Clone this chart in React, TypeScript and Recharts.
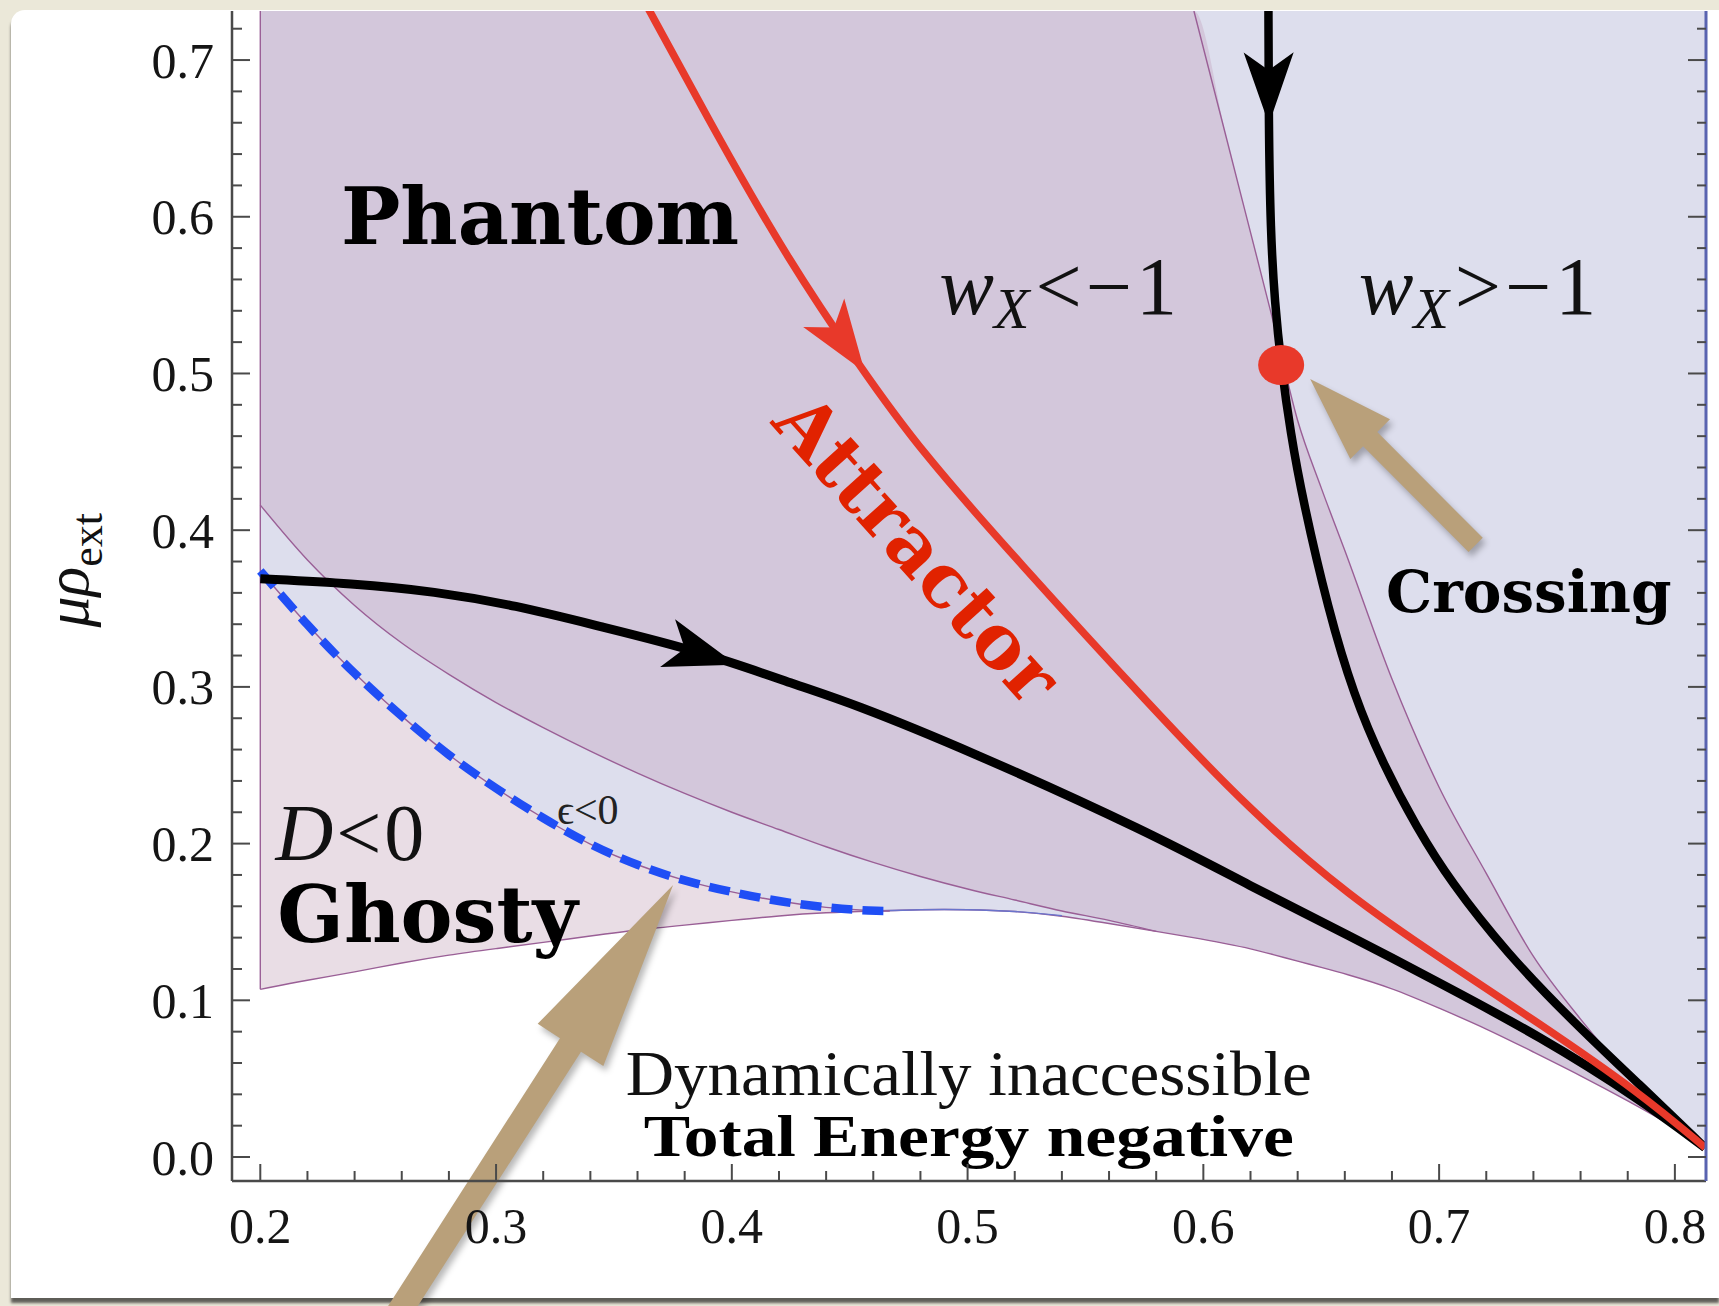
import React from "react";
import { ComposedChart, Area, Line, XAxis, YAxis, ReferenceLine, ReferenceDot } from "recharts";

const X_DOMAIN = [0.188, 0.8132];
const Y_DOMAIN = [-0.0153, 0.7313];

const xMajorTicks = [0.2, 0.3, 0.4, 0.5, 0.6, 0.7, 0.8];
const xMinorTicks = [0.22, 0.24, 0.26, 0.28, 0.32, 0.34, 0.36, 0.38, 0.42, 0.44, 0.46, 0.48, 0.52, 0.54, 0.56, 0.58, 0.62, 0.64, 0.66, 0.68, 0.72, 0.74, 0.76, 0.78];
const yMajorTicks = [0, 0.1, 0.2, 0.3, 0.4, 0.5, 0.6, 0.7];
const yMinorTicks = [0.02, 0.04, 0.06, 0.08, 0.12, 0.14, 0.16, 0.18, 0.22, 0.24, 0.26, 0.28, 0.32, 0.34, 0.36, 0.38, 0.42, 0.44, 0.46, 0.48, 0.52, 0.54, 0.56, 0.58, 0.62, 0.64, 0.66, 0.68, 0.72];

// region boundaries, read on one x grid
const regionX = [0.2, 0.22, 0.24, 0.26, 0.28, 0.3, 0.32, 0.34, 0.36, 0.38, 0.4, 0.42, 0.44, 0.46, 0.48, 0.5, 0.52, 0.54, 0.56, 0.58, 0.596, 0.61, 0.62, 0.63, 0.64, 0.65, 0.66, 0.68, 0.7, 0.72, 0.74, 0.76, 0.78, 0.8, 0.8132];
const bottomEdge = [0.107, 0.113, 0.118, 0.124, 0.129, 0.133, 0.137, 0.141, 0.145, 0.148, 0.151, 0.154, 0.156, 0.157, 0.158, 0.158, 0.157, 0.154, 0.149, 0.144, 0.14, 0.136, 0.133, 0.129, 0.125, 0.121, 0.117, 0.108, 0.095, 0.082, 0.067, 0.052, 0.036, 0.019, 0.006];
const phantomLow = [0.416, 0.381, 0.352, 0.328, 0.308, 0.29, 0.274, 0.259, 0.245, 0.232, 0.22, 0.209, 0.198, 0.188, 0.179, 0.171, 0.164, 0.157, 0.151, 0.144, 0.14, 0.136, 0.133, 0.129, 0.125, 0.121, 0.117, 0.108, 0.095, 0.082, 0.067, 0.052, 0.036, 0.019, 0.006];
const phantomHigh = [0.7313, 0.7313, 0.7313, 0.7313, 0.7313, 0.7313, 0.7313, 0.7313, 0.7313, 0.7313, 0.7313, 0.7313, 0.7313, 0.7313, 0.7313, 0.7313, 0.7313, 0.7313, 0.7313, 0.7313, 0.7313, 0.649, 0.59, 0.531, 0.47, 0.427, 0.387, 0.305, 0.236, 0.181, 0.128, 0.088, 0.053, 0.024, 0.006];

// epsilon < 0 boundary (dashed)
const dashX = [0.2, 0.22, 0.24, 0.26, 0.28, 0.3, 0.32, 0.34, 0.36, 0.38, 0.4, 0.42, 0.44, 0.46, 0.467];
const dashY = [0.374, 0.339, 0.308, 0.281, 0.256, 0.235, 0.216, 0.199, 0.186, 0.176, 0.169, 0.163, 0.159, 0.157, 0.157];

// trajectories
const attractorX = [0.362, 0.3941, 0.4233, 0.4545, 0.4799, 0.5209, 0.5774, 0.6198, 0.6622, 0.7004, 0.7428, 0.7852, 0.8128];
const attractorY = [0.74, 0.651, 0.574, 0.504, 0.451, 0.381, 0.288, 0.221, 0.166, 0.127, 0.085, 0.041, 0.006];
const flowLeftX = [0.2, 0.2392, 0.2738, 0.3084, 0.343, 0.3863, 0.4296, 0.4502, 0.4997, 0.5774, 0.6198, 0.6622, 0.7004, 0.7428, 0.7852, 0.8128];
const flowLeftY = [0.369, 0.366, 0.361, 0.352, 0.339, 0.323, 0.3, 0.29, 0.26, 0.207, 0.173, 0.141, 0.111, 0.077, 0.037, 0.006];
const flowTopX = [0.6276, 0.6277, 0.6285, 0.6303, 0.633, 0.637, 0.6422, 0.653, 0.6637, 0.6764, 0.6906, 0.7047, 0.7287, 0.757, 0.7852, 0.8128];
const flowTopY = [0.74, 0.66, 0.59, 0.545, 0.505, 0.462, 0.419, 0.349, 0.295, 0.25, 0.21, 0.176, 0.13, 0.086, 0.046, 0.006];

const crossingPoint = { x: 0.633, y: 0.5054 };

// arrowheads on curves: [back, tip]
const curveArrows = [
  { color: "#000", seg: [{ x: 0.3794, y: 0.3248 }, { x: 0.4019, y: 0.3142 }] },
  { color: "#e8392a", seg: [{ x: 0.4388, y: 0.5391 }, { x: 0.4564, y: 0.501 }] },
  { color: "#000", seg: [{ x: 0.6277, y: 0.706 }, { x: 0.6278, y: 0.659 }] },
];

// annotation arrows: [tail, tip]
const crossingPointer = [{ x: 0.7155, y: 0.3906 }, { x: 0.6453, y: 0.4965 }];
const ghostPointer = [{ x: 0.255, y: -0.108 }, { x: 0.3751, y: 0.1736 }];

const labelSpots = {
  phantom: [0.2342, 0.5826],
  wLess: [0.488, 0.538],
  wMore: [0.6659, 0.538],
  attractor: [0.4788, 0.3882],
  crossing: [0.6775, 0.348],
  dLess: [0.2064, 0.1895],
  ghosty: [0.2072, 0.1372],
  eps: [0.3258, 0.2125],
  inaccessible: [0.5005, 0.0395],
  negative: [0.5005, 0.0006],
};

const pts = (xs: number[], ys: number[]) => xs.map((x, i) => ({ x, y: ys[i] }));

const baseRegion = regionX.map((x, i) => ({ x, band: [bottomEdge[i], Y_DOMAIN[1]] }));
const ghostRegion = dashY.slice(0, 14).map((top, i) => ({ x: regionX[i], band: [bottomEdge[i], top] }));
const phantomRegion = regionX.map((x, i) => ({ x, band: [phantomLow[i], phantomHigh[i]] }));
const rightEdge = pts(regionX, phantomHigh).filter((p) => p.x >= 0.596);
const lowEdge = pts(regionX, phantomLow).slice(0, 20);

const AXIS = "#4a4a4a";
const EDGE = "#9a5f96";
const SERIF = "Liberation Serif, Times New Roman, serif";
const BOLD = "DejaVu Serif, serif";
const SMOOTH = "basis";
const REGION = "monotone";

const XTick = (p: any) => {
  const v = p.payload.value as number;
  const major = xMajorTicks.includes(v);
  return (
    <g>
      <line x1={p.x} y1={p.y} x2={p.x} y2={p.y - (major ? 17 : 10)} stroke={AXIS} strokeWidth={2} />
      {major && (
        <text x={p.x} y={p.y + 62} textAnchor="middle" fontFamily={SERIF} fontSize={50} fill="#151515">
          {v.toFixed(1)}
        </text>
      )}
    </g>
  );
};

const YTick = (p: any) => {
  const v = p.payload.value as number;
  const major = yMajorTicks.includes(v);
  return (
    <g>
      <line x1={p.x} y1={p.y} x2={p.x + (major ? 18 : 10)} y2={p.y} stroke={AXIS} strokeWidth={2} />
      {major && (
        <text x={p.x - 18} y={p.y} dy="0.35em" textAnchor="end" fontFamily={SERIF} fontSize={50} fill="#151515">
          {v.toFixed(1)}
        </text>
      )}
    </g>
  );
};

const RightTick = (p: any) => {
  const v = p.payload.value as number;
  const major = yMajorTicks.includes(v);
  return <line x1={p.x} y1={p.y} x2={p.x - (major ? 18 : 9)} y2={p.y} stroke={AXIS} strokeWidth={2} />;
};

const YLabel = (p: any) => {
  const vb = p.viewBox || { x: 32, y: 11, height: 1170 };
  const cx = vb.x + 56;
  const cy = vb.y + vb.height * 0.478;
  return (
    <text x={cx} y={cy} transform={`rotate(-90 ${cx} ${cy})`} textAnchor="middle" fontFamily={SERIF} fontSize={62} fill="#111">
      <tspan fontStyle="italic">μρ</tspan>
      <tspan fontSize={44} dy={14}>ext</tspan>
    </text>
  );
};

const arrowHead = (color: string) => (p: any) => {
  const { x1, y1, x2, y2 } = p;
  const len = 72;
  const half = 25;
  const notch = 18;
  const d = Math.hypot(x2 - x1, y2 - y1) || 1;
  const ux = (x2 - x1) / d;
  const uy = (y2 - y1) / d;
  const nx = -uy;
  const ny = ux;
  const bx = x2 - ux * len;
  const by = y2 - uy * len;
  const poly = [
    [x2, y2],
    [bx + nx * half, by + ny * half],
    [bx + ux * notch, by + uy * notch],
    [bx - nx * half, by - ny * half],
  ];
  return <polygon points={poly.map((q) => q.join(",")).join(" ")} fill={color} />;
};

const blockArrow = (shaft: number, headW: number, headL: number) => (p: any) => {
  const { x1, y1, x2, y2 } = p;
  const d = Math.hypot(x2 - x1, y2 - y1) || 1;
  const ux = (x2 - x1) / d;
  const uy = (y2 - y1) / d;
  const nx = -uy;
  const ny = ux;
  const kx = x2 - ux * headL;
  const ky = y2 - uy * headL;
  const poly = [
    [x1 + (nx * shaft) / 2, y1 + (ny * shaft) / 2],
    [kx + (nx * shaft) / 2, ky + (ny * shaft) / 2],
    [kx + (nx * headW) / 2, ky + (ny * headW) / 2],
    [x2, y2],
    [kx - (nx * headW) / 2, ky - (ny * headW) / 2],
    [kx - (nx * shaft) / 2, ky - (ny * shaft) / 2],
    [x1 - (nx * shaft) / 2, y1 - (ny * shaft) / 2],
  ];
  const s = poly.map((q) => q.join(",")).join(" ");
  return (
    <g>
      <polygon points={s} fill="rgba(0,0,0,0.28)" transform="translate(3,5)" style={{ filter: "blur(3px)" }} />
      <polygon points={s} fill="#b9a07a" />
    </g>
  );
};

const textShape = (draw: (cx: number, cy: number) => React.ReactNode) => (p: any) => <g>{draw(p.cx, p.cy)}</g>;

const Note = (spot: number[], draw: (cx: number, cy: number) => React.ReactNode) => (
  <ReferenceDot x={spot[0]} y={spot[1]} r={1} ifOverflow="visible" shape={textShape(draw)} />
);

export default function App() {
  return (
    <div style={{ position: "absolute", left: 0, top: 0, width: 1719, height: 1306, background: "#ebe8d9", overflow: "hidden" }}>
      <div
        style={{
          position: "absolute",
          left: 11,
          top: 10,
          width: 1708,
          height: 1288,
          background: "#fff",
          borderTopLeftRadius: 14,
          boxShadow: "0 5px 3px rgba(0,0,0,0.6)",
        }}
      />
      <div style={{ position: "absolute", left: 0, top: 0 }}>
        <ComposedChart width={1719} height={1306} margin={{ top: 11, right: 12, bottom: 65, left: 32 }}>
          <XAxis
            dataKey="x"
            type="number"
            domain={X_DOMAIN}
            allowDataOverflow
            ticks={[...xMajorTicks, ...xMinorTicks].sort((a, b) => a - b)}
            interval={0}
            height={60}
            tickSize={0}
            tickMargin={0}
            tickLine={false}
            tick={<XTick />}
            axisLine={{ stroke: AXIS, strokeWidth: 2.5 }}
          />
          <YAxis
            type="number"
            domain={Y_DOMAIN}
            allowDataOverflow
            ticks={[...yMajorTicks, ...yMinorTicks].sort((a, b) => a - b)}
            interval={0}
            width={200}
            tickSize={0}
            tickMargin={0}
            tickLine={false}
            tick={<YTick />}
            axisLine={{ stroke: AXIS, strokeWidth: 2.5 }}
            label={<YLabel />}
          />
          <YAxis
            yAxisId="r"
            orientation="right"
            type="number"
            domain={Y_DOMAIN}
            allowDataOverflow
            ticks={[...yMajorTicks, ...yMinorTicks].sort((a, b) => a - b)}
            interval={0}
            width={1}
            tickSize={0}
            tickMargin={0}
            tickLine={false}
            tick={<RightTick />}
            axisLine={{ stroke: "#5963b0", strokeWidth: 3 }}
          />

          <Area data={baseRegion} dataKey="band" type={SMOOTH} fill="#dddeed" fillOpacity={1} stroke="none" isAnimationActive={false} />
          <Area data={ghostRegion} dataKey="band" type={SMOOTH} fill="#e9dde5" fillOpacity={1} stroke="none" isAnimationActive={false} />
          <Area data={phantomRegion} dataKey="band" type={REGION} fill="#d3c7db" fillOpacity={1} stroke="none" isAnimationActive={false} />

          <Line data={pts(regionX, bottomEdge)} dataKey="y" type={SMOOTH} stroke={EDGE} strokeWidth={1.4} dot={false} activeDot={false} isAnimationActive={false} />
          <Line data={pts(regionX, bottomEdge).slice(13, 18)} dataKey="y" type={SMOOTH} stroke="#6a74cc" strokeWidth={1.4} dot={false} activeDot={false} isAnimationActive={false} />
          <Line data={lowEdge} dataKey="y" type={REGION} stroke={EDGE} strokeWidth={1.4} dot={false} activeDot={false} isAnimationActive={false} />
          <Line data={rightEdge} dataKey="y" type={REGION} stroke={EDGE} strokeWidth={1.4} dot={false} activeDot={false} isAnimationActive={false} />
          <Line data={pts(dashX, dashY)} dataKey="y" type={SMOOTH} stroke={EDGE} strokeWidth={1.4} dot={false} activeDot={false} isAnimationActive={false} />
          <ReferenceLine
            segment={[{ x: 0.2, y: bottomEdge[0] }, { x: 0.2, y: Y_DOMAIN[1] }]}
            stroke={EDGE}
            strokeWidth={1.4}
            ifOverflow="visible"
          />

          <Line data={pts(dashX, dashY)} dataKey="y" type={SMOOTH} stroke="#1f4ef5" strokeWidth={8.5} strokeDasharray="21 10" dot={false} activeDot={false} isAnimationActive={false} />
          <Line data={pts(flowLeftX, flowLeftY)} dataKey="y" type={SMOOTH} stroke="#000" strokeWidth={9} dot={false} activeDot={false} isAnimationActive={false} />
          <Line data={pts(flowTopX, flowTopY)} dataKey="y" type={SMOOTH} stroke="#000" strokeWidth={8.5} dot={false} activeDot={false} isAnimationActive={false} />
          <Line data={pts(attractorX, attractorY)} dataKey="y" type={SMOOTH} stroke="#e8392a" strokeWidth={7.5} dot={false} activeDot={false} isAnimationActive={false} />

          {curveArrows.map((a, i) => (
            <ReferenceLine key={i} segment={a.seg} ifOverflow="visible" shape={arrowHead(a.color)} />
          ))}

          <ReferenceDot
            x={crossingPoint.x}
            y={crossingPoint.y}
            r={20}
            ifOverflow="visible"
            shape={(p: any) => <ellipse cx={p.cx} cy={p.cy} rx={23} ry={20} fill="#e8392a" />}
          />

          <ReferenceLine segment={crossingPointer} ifOverflow="visible" shape={blockArrow(20, 56, 85)} />
          <ReferenceLine segment={ghostPointer} ifOverflow="visible" shape={blockArrow(25, 78, 190)} />

          {Note(labelSpots.phantom, (cx, cy) => (
            <text x={cx} y={cy} fontFamily={BOLD} fontWeight="bold" fontSize={79} fill="#000">Phantom</text>
          ))}
          {Note(labelSpots.wLess, (cx, cy) => (
            <text x={cx} y={cy} fontFamily={SERIF} fontSize={82} fill="#111">
              <tspan fontStyle="italic">w</tspan>
              <tspan fontStyle="italic" fontSize={58} dy={14}>X</tspan>
              <tspan dy={-14} dx={6} letterSpacing={4}>{"<−1"}</tspan>
            </text>
          ))}
          {Note(labelSpots.wMore, (cx, cy) => (
            <text x={cx} y={cy} fontFamily={SERIF} fontSize={82} fill="#111">
              <tspan fontStyle="italic">w</tspan>
              <tspan fontStyle="italic" fontSize={58} dy={14}>X</tspan>
              <tspan dy={-14} dx={6} letterSpacing={4}>{">−1"}</tspan>
            </text>
          ))}
          {Note(labelSpots.attractor, (cx, cy) => (
            <text
              x={cx}
              y={cy}
              transform={`rotate(48 ${cx} ${cy})`}
              textAnchor="middle"
              dominantBaseline="central"
              fontFamily={BOLD}
              fontWeight="bold"
              fontSize={75}
              fill="#e12200"
            >
              Attractor
            </text>
          ))}
          {Note(labelSpots.crossing, (cx, cy) => (
            <text x={cx} y={cy} fontFamily={BOLD} fontWeight="bold" fontSize={58} fill="#000">Crossing</text>
          ))}
          {Note(labelSpots.dLess, (cx, cy) => (
            <text x={cx} y={cy} fontFamily={SERIF} fontSize={80} fill="#111" letterSpacing={3}>
              <tspan fontStyle="italic">D</tspan>
              <tspan>{"<0"}</tspan>
            </text>
          ))}
          {Note(labelSpots.ghosty, (cx, cy) => (
            <text x={cx} y={cy} fontFamily={BOLD} fontWeight="bold" fontSize={78} fill="#000">Ghosty</text>
          ))}
          {Note(labelSpots.eps, (cx, cy) => (
            <text x={cx} y={cy} fontFamily={SERIF} fontSize={42} fill="#222">{"ϵ<0"}</text>
          ))}
          {Note(labelSpots.inaccessible, (cx, cy) => (
            <text x={cx} y={cy} textAnchor="middle" fontFamily={SERIF} fontSize={64} fill="#111" textLength={686} lengthAdjust="spacingAndGlyphs">
              Dynamically inaccessible
            </text>
          ))}
          {Note(labelSpots.negative, (cx, cy) => (
            <text x={cx} y={cy} textAnchor="middle" fontFamily={SERIF} fontWeight="bold" fontSize={60} fill="#000" textLength={650} lengthAdjust="spacingAndGlyphs">
              Total Energy negative
            </text>
          ))}
        </ComposedChart>
      </div>
    </div>
  );
}
